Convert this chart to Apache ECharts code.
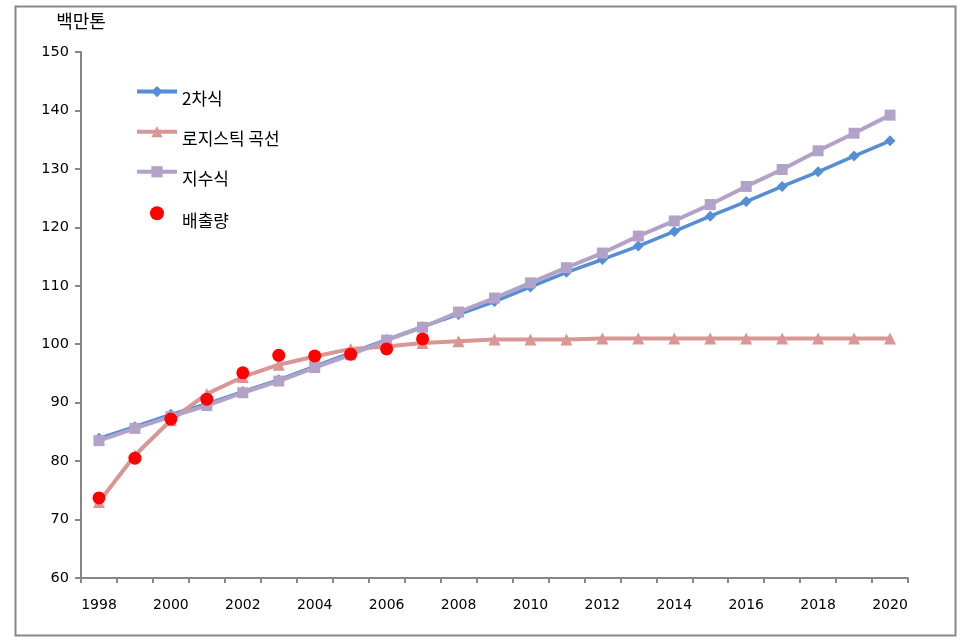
<!DOCTYPE html>
<html><head><meta charset="utf-8">
<script src="https://cdn.jsdelivr.net/npm/echarts@6/dist/echarts.min.js"></script>
<style>html,body{margin:0;padding:0;background:#fff}#c{width:962px;height:644px}</style>
</head><body><div id="c"></div>
<script>
const years = ['1998','1999','2000','2001','2002','2003','2004','2005','2006','2007','2008','2009','2010','2011','2012','2013','2014','2015','2016','2017','2018','2019','2020'];
const quadratic = [83.9,85.9,88.0,89.8,91.9,93.9,96.2,98.5,100.8,103.0,105.1,107.3,109.8,112.3,114.5,116.8,119.3,121.9,124.4,127.0,129.5,132.2,134.8];
const logistic = [73.0,81.0,87.0,91.5,94.4,96.5,97.9,99.2,99.6,100.2,100.5,100.8,100.8,100.8,101.0,101.0,101.0,101.0,101.0,101.0,101.0,101.0,101.0];
const exponential = [83.5,85.6,87.6,89.5,91.7,93.7,96.0,98.2,100.7,102.9,105.5,107.9,110.5,113.1,115.6,118.5,121.1,123.9,127.0,129.9,133.1,136.1,139.2];
const emissions = [73.7,80.5,87.2,90.6,95.1,98.1,98.0,98.3,99.2,100.9,null,null,null,null,null,null,null,null,null,null,null,null,null];
const seriesNames = ['2차식','로지스틱 곡선','지수식','배출량'];
const yTitle = '백만톤';

const FONT = 'DejaVu Sans, "Noto Sans CJK KR", sans-serif';
const KFONT = '"Noto Sans CJK KR", sans-serif';
const chart = echarts.init(document.getElementById('c'));
chart.setOption({
  animation: false,
  backgroundColor: '#fff',
  graphic: [{
    type: 'rect', left: 13, top: 4, shape: {width: 940, height: 629},
    style: {fill: 'none', stroke: '#878787', lineWidth: 2}, silent: true
  }],
  grid: {left: 81, right: 54, top: 52, bottom: 66},
  legend: {
    orient: 'vertical', left: 130, top: 81, itemGap: 19, itemWidth: 40, itemHeight: 14,
    data: [
      {name: seriesNames[0], lineStyle: {width: 4}},
      {name: seriesNames[1], lineStyle: {width: 4}},
      {name: seriesNames[2], lineStyle: {width: 4}},
      {name: seriesNames[3], itemStyle: {opacity: 1}}
    ],
    formatter: function (name) { return '{t|' + name + '}'; },
    textStyle: {
      fontFamily: KFONT, fontSize: 17, color: '#000',
      rich: {t: {fontFamily: KFONT, fontSize: 17, color: '#000', padding: [14, 0, 0, 0]}}
    }
  },
  xAxis: {
    type: 'category', data: years, boundaryGap: true,
    axisLine: {lineStyle: {color: '#878787', width: 2}},
    axisTick: {show: true, length: 5, interval: 0, lineStyle: {color: '#878787', width: 2}},
    axisLabel: {interval: 1, fontFamily: FONT, fontSize: 14, color: '#000', margin: 20}
  },
  yAxis: {
    type: 'value', min: 60, max: 150, interval: 10,
    name: yTitle, nameLocation: 'end', nameGap: 22,
    nameTextStyle: {fontFamily: KFONT, fontSize: 18, color: '#000', align: 'center', padding: [0,0,0,0]},
    splitLine: {show: false},
    axisLine: {show: true, lineStyle: {color: '#878787', width: 2}},
    axisTick: {show: true, length: 6, inside: false, lineStyle: {color: '#878787', width: 2}},
    axisLabel: {fontFamily: FONT, fontSize: 14.5, color: '#000', margin: 12}
  },
  series: [
    {name: seriesNames[0], type: 'line', data: quadratic, z: 2,
     symbol: 'diamond', symbolSize: 11,
     lineStyle: {color: '#558ED5', width: 3.5}, itemStyle: {color: '#558ED5'}},
    {name: seriesNames[1], type: 'line', data: logistic, z: 3,
     symbol: 'triangle', symbolSize: 12,
     lineStyle: {color: '#D99694', width: 4}, itemStyle: {color: '#D99694'}},
    {name: seriesNames[2], type: 'line', data: exponential, z: 4,
     symbol: 'rect', symbolSize: 11,
     lineStyle: {color: '#B3A2C7', width: 4}, itemStyle: {color: '#B3A2C7'}},
    {name: seriesNames[3], type: 'scatter', data: emissions, z: 5,
     symbol: 'circle', symbolSize: 13, itemStyle: {color: '#FF0000', opacity: 1}}
  ]
});
</script></body></html>
